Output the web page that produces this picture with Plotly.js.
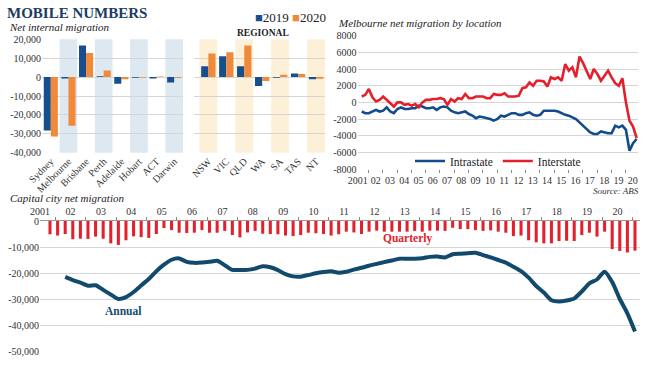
<!DOCTYPE html>
<html>
<head>
<meta charset="utf-8">
<script src="https://cdn.plot.ly/plotly-3.0.1.min.js"></script>
<style>
html,body{margin:0;padding:0;background:#fff;}
#chart{width:650px;height:366px;}
</style>
</head>
<body>
<div id="chart"></div>
<script>
// ---------- DATA ----------
const capitals = ['Sydney','Melbourne','Brisbane','Perth','Adelaide','Hobart','ACT','Darwin'];
const cap2019 = [-28200, -700, 16700, 500, -3500, -400, -700, -2800];
const cap2020 = [-31400, -25800, 12800, 3500, -1200, -400, 300, -500];

const regions = ['NSW','VIC','QLD','WA','SA','TAS','NT'];
const reg2019 = [5800, 11000, 5800, -4700, -300, 1900, -1200];
const reg2020 = [12500, 13200, 16700, -2100, 1200, 1600, -900];

const seriesNames = ['2019', '2020'];
const barTickVals = [20000, 10000, 0, -10000, -20000, -30000, -40000];
const barTickText = ['20,000', '10,000', '0', '-10,000', '-20,000', '-30,000', '-40,000'];

// Melbourne net migration by location, quarterly from Sep 2001
const firstQuarter = 2001.625;
const intrastate = [
  -1100,-1300,-1300,-1100,-900,-1100,-1000,-600,-1100,-1300,
  -800,-600,-800,-800,-700,-700,-400,-500,-700,-700,
  -600,-900,-600,-500,-600,-1000,-1200,-1300,-1200,-1100,
  -1400,-1600,-1900,-1700,-1800,-1900,-2000,-2200,-2000,-1600,
  -1700,-1500,-1300,-1300,-1500,-1500,-1300,-1200,-1500,-1600,
  -1500,-1000,-1000,-1000,-1000,-1100,-1300,-1500,-1600,-1800,
  -2000,-2400,-2800,-3200,-3600,-3800,-3800,-3500,-3600,-3700,
  -3700,-2800,-3000,-2800,-3300,-5800,-4900,-4400
];
const interstate = [
  700,900,1600,600,100,300,700,300,-100,-500,
  0,0,-300,-200,-400,-200,-600,0,300,300,
  400,400,500,400,-300,400,100,500,400,1000,
  500,500,700,700,700,500,500,1000,900,900,
  1100,700,700,700,800,1700,1800,2400,2000,2600,
  2600,2500,1900,3000,2800,3000,2600,4600,3800,4200,
  3000,5500,4700,3800,2800,4000,3400,2600,3200,3800,
  3000,2300,2000,2900,0,-2200,-2900,-4300
];
const lineTickVals = [8000, 6000, 4000, 2000, 0, -2000, -4000, -6000, -8000];
const lineTickText = ['8000','6000','4000','2000','0','-2000','-4000','-6000','-8000'];

// Capital city net migration
const quarterly = [
  -5100,-5600,-5000,-7000,-6800,-6900,-6000,-6800,-8600,-9200,
  -7400,-5900,-6200,-6500,-5000,-2700,-3500,-4500,-4600,
  -4500,-3500,-4500,-4500,-3800,-5400,-6300,-4400,-3800,-4900,
  -5000,-5100,-5600,-5800,-5400,-4500,-4700,-5000,-5600,-5100,
  -4100,-4400,-5000,-4100,-3700,-4100,-4100,-4100,-4100,-3800,
  -4100,-3700,-3700,-3800,-2600,-3100,-3100,-3500,-3800,-3600,-4100,
  -4500,-5800,-5600,-7400,-8200,-8600,-8600,-7700,-7600,-7700,
  -5400,-4500,-6000,-4100,-10800,-11500,-12100,-11400
];
const annual = [
  -21500,-22700,-23700,-24900,-24700,-26500,-28300,-30000,-29300,-27300,
  -24800,-22300,-19300,-16800,-14900,-14400,-15700,-16100,-16000,-15700,
  -15300,-17000,-18800,-18800,-18800,-18300,-17400,-17800,-18900,-20400,
  -21300,-21400,-20800,-20100,-19600,-19300,-19900,-19500,-18700,-18000,
  -17200,-16500,-15800,-15200,-14500,-14500,-14500,-14300,-13800,-13700,
  -14000,-12800,-12600,-12400,-12200,-13100,-14000,-15000,-16000,-17600,
  -19300,-21800,-25000,-27500,-30500,-31000,-30600,-29800,-27100,-24000,
  -22500,-19500,-23500,-30000,-35500,-42500
];
const capTickVals = [0, -10000, -20000, -30000, -40000, -50000];
const capTickText = ['0', '-10,000', '-20,000', '-30,000', '-40,000', '-50,000'];

const years = [2001,2002,2003,2004,2005,2006,2007,2008,2009,2010,2011,2012,2013,2014,2015,2016,2017,2018,2019,2020];
const yearLabels = ['2001','02','03','04','05','06','07','08','09','10','11','12','13','14','15','16','17','18','19','20'];

// ---------- HELPERS ----------
const W = 650, H = 366;
const fx = v => v / W;
const fy = v => 1 - v / H;
const quarterX = n => Array.from({length: n}, (_, i) => firstQuarter + 0.25 * i);
const qx = quarterX(intrastate.length);
const qxBars = quarterX(quarterly.length);
const qxAnnual = qxBars.slice(qxBars.length - annual.length);

const SERIF = '"Liberation Serif", "DejaVu Serif", serif';
const C19 = '#174f8c', C20 = '#f08a3a';
const BLUE = '#124c8c', RED = '#e3202b', NAVY = '#124a6e';
const GRID = '#d5d5d5';
const tickFont = {family: SERIF, size: 10, color: '#333'};

// ---------- TRACES ----------
const traces = [
  {type:'bar', name:seriesNames[0], x:capitals, y:cap2019, xaxis:'x', yaxis:'y', marker:{color:C19}, showlegend:false},
  {type:'bar', name:seriesNames[1], x:capitals, y:cap2020, xaxis:'x', yaxis:'y', marker:{color:C20}, showlegend:false},
  {type:'bar', name:seriesNames[0], x:regions, y:reg2019, xaxis:'x2', yaxis:'y2', marker:{color:C19}, showlegend:false},
  {type:'bar', name:seriesNames[1], x:regions, y:reg2020, xaxis:'x2', yaxis:'y2', marker:{color:C20}, showlegend:false},
  {type:'scatter', mode:'lines', name:'Intrastate', x:qx, y:intrastate, xaxis:'x3', yaxis:'y3', line:{color:BLUE, width:2.6}},
  {type:'scatter', mode:'lines', name:'Interstate', x:qx, y:interstate, xaxis:'x3', yaxis:'y3', line:{color:RED, width:2.6}},
  {type:'bar', name:'Quarterly', x:qxBars, y:quarterly, xaxis:'x4', yaxis:'y4', width:0.1, marker:{color:RED}, showlegend:false},
  {type:'scatter', mode:'lines', name:'Annual', x:qxAnnual, y:annual, xaxis:'x4', yaxis:'y4', line:{color:NAVY, width:4, shape:'spline', smoothing:0.6}, showlegend:false}
];

// ---------- SHAPES (column shading) ----------
const shapes = [];
capitals.forEach((c, i) => { if (i % 2 === 1) shapes.push({type:'rect', xref:'x', yref:'y domain', x0:i-0.5, x1:i+0.5, y0:0, y1:1, fillcolor:'#dde8f1', line:{width:0}, layer:'below'}); });
regions.forEach((c, i) => { if (i % 2 === 0) shapes.push({type:'rect', xref:'x2', yref:'y2 domain', x0:i-0.5, x1:i+0.5, y0:0, y1:1, fillcolor:'#fdf0d8', line:{width:0}, layer:'below'}); });

// ---------- ANNOTATIONS ----------
const ann = (text, x, y, opts) => Object.assign({text, x:fx(x), y:fy(y), xref:'paper', yref:'paper', showarrow:false, xanchor:'left', yanchor:'middle', font:{family:SERIF, size:11, color:'#222'}}, opts || {});
const swatch = (color, label) => `<span style="color:${color}">■</span>${label}`;
const annotations = [
  ann('<b>MOBILE NUMBERS</b>', 5, 13, {font:{family:SERIF, size:15, color:'#1c3d60'}}),
  ann('<i>Net internal migration</i>', 7, 27, {font:{family:SERIF, size:11, color:'#222'}}),
  ann(swatch(C19, seriesNames[0]) + ' ' + swatch(C20, seriesNames[1]), 253, 17, {font:{family:SERIF, size:13, color:'#222'}}),
  ann('<b>REGIONAL</b>', 263, 33, {xanchor:'center', font:{family:SERIF, size:9.5, color:'#222'}}),
  ann('<i>Melbourne net migration by location</i>', 336, 23, {font:{family:SERIF, size:11, color:'#222'}}),
  ann('<i>Source: ABS</i>', 641, 191, {xanchor:'right', font:{family:SERIF, size:9, color:'#333'}}),
  ann('<i>Capital city net migration</i>', 8, 198, {font:{family:SERIF, size:11, color:'#222'}}),
  ann('<b>Annual</b>', 123, 311, {xanchor:'center', font:{family:SERIF, size:11.5, color:NAVY}}),
  ann('<b>Quarterly</b>', 407, 239, {xanchor:'center', font:{family:SERIF, size:11.5, color:RED}})
];

// ---------- LAYOUT ----------
const barY = {range:[-40000, 20000], tickvals:barTickVals, ticktext:barTickText, showgrid:true, gridcolor:GRID, zeroline:false, tickfont:tickFont, fixedrange:true, domain:[fy(152.7), fy(39.3)]};
const lineYearTicks = years.map(y => y === years[0] ? y + 0.35 : y + 0.6);
const layout = {
  width: W, height: H,
  margin: {l:0, r:0, t:0, b:0},
  paper_bgcolor: '#fff', plot_bgcolor: 'rgba(0,0,0,0)',
  font: {family: SERIF, color: '#333'},
  barmode: 'group', bargap: 0.2, bargroupgap: 0,
  showlegend: true,
  legend: {orientation:'h', x:fx(410), y:fy(161), xanchor:'left', yanchor:'middle', font:{family:SERIF, size:11.5, color:'#222'}, bgcolor:'rgba(0,0,0,0)', itemwidth:30},
  xaxis: {domain:[fx(42), fx(183)], range:[-0.5, 7.5], anchor:'y', tickangle:-45, tickfont:tickFont, showgrid:false, ticks:'', fixedrange:true},
  yaxis: Object.assign({}, barY, {anchor:'x'}),
  xaxis2: {domain:[fx(194), fx(325)], range:[-0.8, 6.5], anchor:'y2', tickangle:-45, tickfont:tickFont, showgrid:false, ticks:'', fixedrange:true},
  yaxis2: Object.assign({}, barY, {anchor:'x2', showticklabels:false}),
  xaxis3: {domain:[fx(357.5), fx(638)], range:[2001.33, 2020.97], anchor:'y3', tickmode:'array', tickvals:lineYearTicks, ticktext:yearLabels, tickangle:0, ticks:'', ticklabelstandoff:4, tickfont:tickFont, showgrid:false, zeroline:false,
           minor:{tickmode:'array', tickvals:years.slice(1).map(y => y + 0.1), ticks:'outside', ticklen:3, tickcolor:'#888', showgrid:false}},
  yaxis3: {domain:[fy(169), fy(35.7)], range:[-8000, 8000], anchor:'x3', tickvals:lineTickVals, ticktext:lineTickText, showgrid:true, gridcolor:GRID, zeroline:false, tickfont:tickFont},
  xaxis4: {domain:[fx(40), fx(640)], range:[2001.296, 2021.04], anchor:'y4', side:'top', tickmode:'array', tickvals:years.map(y => y + 0.3), ticktext:yearLabels, tickangle:0, ticks:'', ticklabelstandoff:1, tickfont:tickFont, showgrid:false, zeroline:false, showline:true, linecolor:'#999', linewidth:1,
           minor:{tickmode:'array', tickvals:years.map(y => y + 0.8), ticks:'outside', ticklen:3, tickcolor:'#888', showgrid:false}},
  yaxis4: {domain:[fy(351), fy(221)], range:[-50000, 0], anchor:'x4', tickvals:capTickVals, ticktext:capTickText, showgrid:true, gridcolor:GRID, zeroline:false, tickfont:tickFont},
  shapes, annotations
};

Plotly.newPlot('chart', traces, layout, {staticPlot:true, displayModeBar:false});
</script>
</body>
</html>
